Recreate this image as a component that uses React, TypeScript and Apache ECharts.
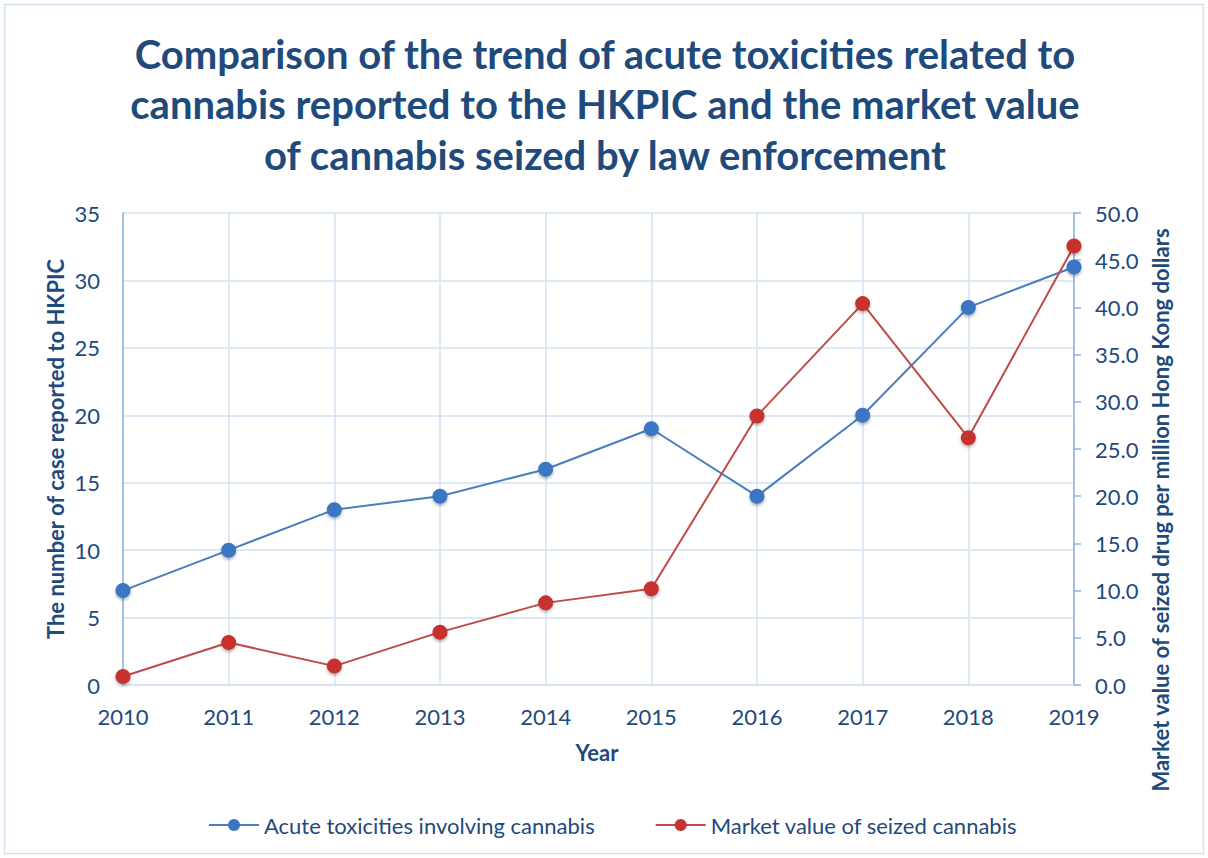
import React, { useEffect, useRef } from "react";
import * as echarts from "echarts";

const years = ["2010", "2011", "2012", "2013", "2014", "2015", "2016", "2017", "2018", "2019"];
const acuteCases = [7, 10, 13, 14, 16, 19, 14, 20, 28, 31];
const marketValue = [0.9, 4.5, 2.0, 5.6, 8.7, 10.2, 28.5, 40.4, 26.2, 46.5];
const titleLines = [
  "Comparison of the trend of acute toxicities related to",
  "cannabis reported to the HKPIC and the market value",
  "of cannabis seized by law enforcement",
];
const seriesNames = ["Acute toxicities involving cannabis", "Market value of seized cannabis"];
const leftAxisName = "The number of case reported to HKPIC";
const rightAxisName = "Market value of seized drug per million Hong Kong dollars";
const xAxisName = "Year";

const FONT = "Lato, 'Open Sans', sans-serif";
const TEXT = "#1F4A7C";
const GRIDC = "#D5E2F2";
const AXISC = "#8DB3E2";
const FS = 22;

export default function App() {
  const ref = useRef<HTMLDivElement>(null);
  useEffect(() => {
    document.body.style.margin = "0";
    const chart = echarts.init(ref.current!, null, { renderer: "svg" });
    const titleY = [54, 104, 155];
    chart.setOption({
      animation: false,
      backgroundColor: "#ffffff",
      textStyle: { fontFamily: FONT },
      legend: {
        top: 809,
        left: 203,
        itemWidth: 50,
        itemHeight: 15,
        itemGap: 60,
        textStyle: { fontSize: FS, color: TEXT, fontFamily: FONT },
        data: seriesNames,
      },
      grid: { left: 123, right: 134, top: 213, bottom: 173, containLabel: false },
      xAxis: {
        type: "category",
        data: years,
        boundaryGap: false,
        axisLine: { show: true, lineStyle: { color: GRIDC, width: 1.5 } },
        axisTick: { show: false },
        axisLabel: { fontSize: FS, color: TEXT, margin: 20, fontFamily: FONT },
        splitLine: { show: true, lineStyle: { color: GRIDC, width: 1.5 } },
      },
      yAxis: [
        {
          type: "value",
          min: 0,
          max: 35,
          interval: 5,
          position: "left",
          axisLine: { show: true, lineStyle: { color: AXISC, width: 1.5 } },
          axisTick: { show: false },
          axisLabel: { fontSize: FS, color: TEXT, margin: 23, fontFamily: FONT },
          splitLine: { show: true, lineStyle: { color: GRIDC, width: 1.5 } },
        },
        {
          type: "value",
          min: 0,
          max: 50,
          interval: 5,
          position: "right",
          axisLine: { show: true, lineStyle: { color: AXISC, width: 1.5 } },
          axisTick: { show: true, length: 7, lineStyle: { color: AXISC, width: 1.5 } },
          axisLabel: {
            fontSize: FS,
            color: TEXT,
            margin: 21,
            fontFamily: FONT,
            formatter: (v: number) => v.toFixed(1),
          },
          splitLine: { show: false },
        },
      ],
      graphic: [
        {
          type: "rect",
          shape: { x: 4.5, y: 4.5, width: 1199, height: 849 },
          style: { fill: "none", stroke: "#D5E2F2", lineWidth: 1.5 },
          silent: true,
        },
        ...titleLines.map((t, i) => ({
          type: "text",
          x: 605,
          y: titleY[i],
          style: {
            text: t,
            fontSize: 40,
            fontWeight: "bold",
            fill: TEXT,
            fontFamily: FONT,
            textAlign: "center",
            textVerticalAlign: "middle",
          },
        })),
        {
          type: "text",
          x: 55,
          y: 449,
          rotation: Math.PI / 2,
          style: {
            text: leftAxisName,
            fontSize: FS,
            fontWeight: "bold",
            fill: TEXT,
            fontFamily: FONT,
            textAlign: "center",
            textVerticalAlign: "middle",
          },
        },
        {
          type: "text",
          x: 1160,
          y: 510,
          rotation: Math.PI / 2,
          style: {
            text: rightAxisName,
            fontSize: FS,
            fontWeight: "bold",
            fill: TEXT,
            fontFamily: FONT,
            textAlign: "center",
            textVerticalAlign: "middle",
          },
        },
        {
          type: "text",
          x: 597,
          y: 752,
          style: {
            text: xAxisName,
            fontSize: FS,
            fontWeight: "bold",
            fill: TEXT,
            fontFamily: FONT,
            textAlign: "center",
            textVerticalAlign: "middle",
          },
        },
      ],
      series: [
        {
          name: seriesNames[0],
          type: "line",
          yAxisIndex: 0,
          data: acuteCases,
          symbol: "circle",
          symbolSize: 15,
          lineStyle: { color: "#4A7EBB", width: 2 },
          itemStyle: {
            color: "#3A76C4",
            shadowBlur: 3,
            shadowOffsetY: 2,
            shadowColor: "rgba(0,0,0,0.3)",
          },
        },
        {
          name: seriesNames[1],
          type: "line",
          yAxisIndex: 1,
          data: marketValue,
          symbol: "circle",
          symbolSize: 15,
          lineStyle: { color: "#BE4B48", width: 2 },
          itemStyle: {
            color: "#C8322F",
            shadowBlur: 3,
            shadowOffsetY: 2,
            shadowColor: "rgba(0,0,0,0.3)",
          },
        },
      ],
    });
    return () => chart.dispose();
  }, []);
  return <div ref={ref} style={{ width: 1208, height: 858 }} />;
}
